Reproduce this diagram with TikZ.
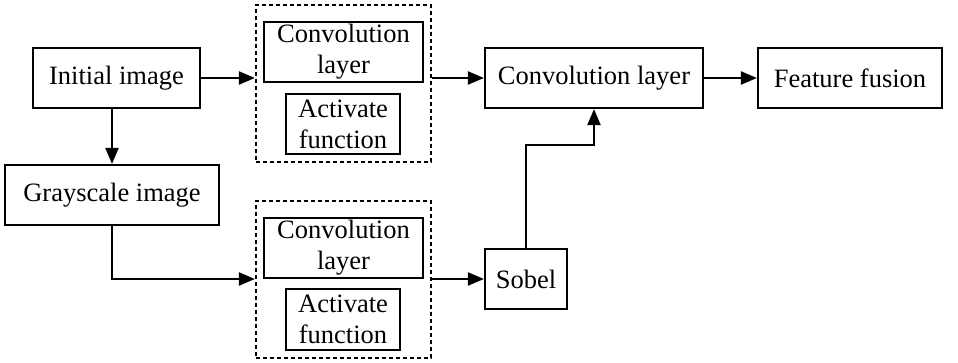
\documentclass[tikz,border=0pt]{standalone}
\usepackage{fontspec}
\setmainfont{Liberation Serif}
\usetikzlibrary{arrows.meta}
\begin{document}
\begin{tikzpicture}[x=1pt,y=-1pt,
  box/.style={draw,line width=2.2pt,inner sep=0pt,align=center,font=\fontsize{26.5}{31}\selectfont},
  dbox/.style={draw,line width=2.2pt,dash pattern=on 4pt off 3pt,inner sep=0pt},
  arr/.style={line width=2.2pt,-{Triangle[length=16pt,width=13pt]}}]
\useasboundingbox (0,0) rectangle (958,363);
\node[box,minimum width=167pt,minimum height=60pt] (init) at (116.5,78) {Initial image};
\node[box,minimum width=214pt,minimum height=60pt] (gray) at (112,195) {Grayscale image};
\node[dbox,minimum width=175pt,minimum height=157pt] (td) at (343.5,83.5) {};
\node[box,minimum width=159pt,minimum height=60pt] (c1) at (343.5,52) {Convolution\\layer};
\node[box,minimum width=114pt,minimum height=60pt] (a1) at (343,124) {Activate\\function};
\node[dbox,minimum width=175pt,minimum height=157pt] (bd) at (343.5,279.5) {};
\node[box,minimum width=159pt,minimum height=60pt] (c2) at (343.5,248) {Convolution\\layer};
\node[box,minimum width=114pt,minimum height=61pt] (a2) at (343,319.5) {Activate\\function};
\node[box,minimum width=218pt,minimum height=60pt] (conv) at (594,78) {Convolution layer};
\node[box,minimum width=184pt,minimum height=60pt] (fuse) at (850,78) {Feature fusion};
\node[box,minimum width=82pt,minimum height=60pt] (sobel) at (526,279) {Sobel};
\draw[arr] (init.east) -- (init.east -| td.west);
\draw[arr] (init.south -| gray.north) -- (gray.north);
\draw[arr] (gray.south) |- (sobel.west -| bd.west);
\draw[arr] (td.east |- conv.west) -- (conv.west);
\draw[arr] (bd.east |- sobel.west) -- (sobel.west);
\draw[arr] (conv.east) -- (fuse.west);
\draw[arr] (sobel.north) -- ++(0,-103) -| (conv.south);
\end{tikzpicture}
\end{document}
